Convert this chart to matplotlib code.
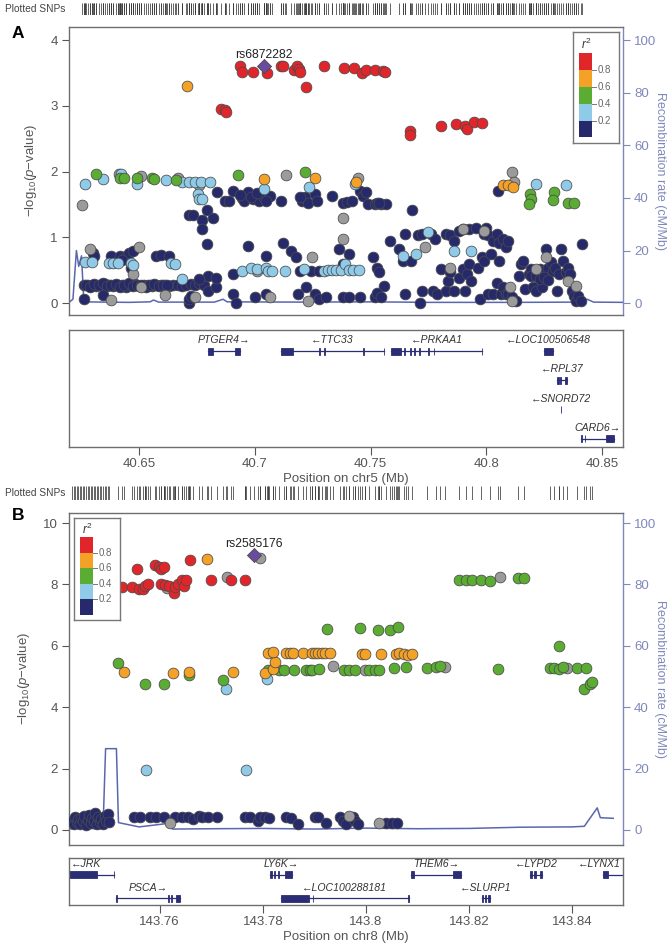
import matplotlib
matplotlib.use("Agg")
import matplotlib.pyplot as plt
from matplotlib.patches import Rectangle

plt.rcParams['font.family'] = ['Liberation Sans', 'DejaVu Sans']
plt.rcParams['mathtext.fontset'] = 'custom'
plt.rcParams['mathtext.rm'] = 'Liberation Sans'
plt.rcParams['mathtext.it'] = 'Liberation Sans:italic'

# ---------------- colours ----------------
NAVY, LBLUE, GREEN, ORANGE, RED = '#262a6b', '#8fcbe9', '#5aac32', '#f4a128', '#e1262b'
GRAY, LEAD = '#9b9b9b', '#6a4c9c'
GENE_C = '#2b2d75'
RECOMB_C = '#5b66b0'
AXIS_C = '#6e6e6e'
RAXIS_C = '#8088bb'

# ================= Panel A data (chr5) =================
A_lead_pos, A_lead_logp = [40.7038], [3.60]
A_lead_name = 'rs6872282'

A_red_pos = [40.6937, 40.6946, 40.6992, 40.7051, 40.7112, 40.7121, 40.7168, 40.7181, 40.7190, 40.7195,
             40.7223, 40.7297, 40.7386, 40.7427, 40.7464, 40.7482, 40.7519, 40.7552, 40.7561, 40.6853,
             40.6872, 40.6877, 40.7671, 40.7671, 40.7806, 40.7871, 40.7908, 40.7917, 40.7945, 40.7982]
A_red_logp = [3.60, 3.52, 3.52, 3.50, 3.60, 3.60, 3.55, 3.60, 3.56, 3.52,
              3.28, 3.60, 3.57, 3.57, 3.50, 3.55, 3.55, 3.53, 3.51, 2.95,
              2.94, 2.90, 2.62, 2.55, 2.70, 2.73, 2.70, 2.65, 2.75, 2.74]

A_orange_pos = [40.6708, 40.7038, 40.7260, 40.7436, 40.8074, 40.8092, 40.8116]
A_orange_logp = [3.31, 1.89, 1.91, 1.85, 1.79, 1.79, 1.76]

A_green_pos = [40.6316, 40.6418, 40.6437, 40.6492, 40.6557, 40.6566, 40.6659, 40.6927, 40.7217, 40.8190,
               40.8194, 40.8185, 40.8290, 40.8287, 40.8351, 40.8379]
A_green_logp = [1.96, 1.91, 1.90, 1.91, 1.91, 1.89, 1.87, 1.95, 1.99, 1.66,
                1.58, 1.51, 1.69, 1.57, 1.53, 1.53]

A_lblue_pos = [40.6265, 40.6344, 40.6422, 40.6492, 40.6618, 40.6686, 40.6714, 40.6742, 40.6770, 40.6807,
               40.6755, 40.6760, 40.6773, 40.7038, 40.7236, 40.7432, 40.8213, 40.8346,
               40.6265, 40.6298, 40.6372, 40.6390, 40.6409, 40.6464, 40.6474, 40.6640, 40.6655, 40.6686,
               40.6945, 40.6982, 40.7010, 40.7047, 40.7056, 40.7075, 40.7130, 40.7214, 40.7297, 40.7315,
               40.7334, 40.7352, 40.7371, 40.7389, 40.7408, 40.7426, 40.7450,
               40.7750, 40.7639, 40.7695, 40.7861, 40.7935]
A_lblue_logp = [1.81, 1.89, 1.96, 1.81, 1.87, 1.84, 1.84, 1.84, 1.84, 1.84,
                1.66, 1.58, 1.58, 1.74, 1.76, 1.81, 1.81, 1.79,
                0.63, 0.63, 0.61, 0.61, 0.61, 0.61, 0.58, 0.61, 0.59, 0.37,
                0.49, 0.54, 0.52, 0.54, 0.49, 0.49, 0.49, 0.52, 0.49, 0.50,
                0.50, 0.50, 0.50, 0.60, 0.50, 0.50, 0.50,
                1.08, 0.72, 0.75, 0.80, 0.80]

A_gray_pos = [40.6252, 40.6414, 40.6511, 40.6668, 40.6760, 40.7136, 40.8111, 40.8120, 40.7445, 40.7380,
              40.7380, 40.6289, 40.6381, 40.6511, 40.6612, 40.6742, 40.6474, 40.6501, 40.7010, 40.7247,
              40.7232, 40.7066, 40.7737, 40.7843, 40.7898, 40.7991, 40.8102, 40.8111, 40.8213, 40.8351,
              40.8388, 40.8259]
A_gray_logp = [1.49, 1.97, 1.94, 1.90, 1.79, 1.95, 2.00, 1.84, 1.91, 1.30,
               0.97, 0.82, 0.05, 0.24, 0.13, 0.09, 0.44, 0.86, 0.49, 0.70,
               0.04, 0.09, 0.85, 0.54, 1.13, 1.10, 0.24, 0.04, 0.52, 0.34,
               0.26, 0.70]

A_navy_pos = [
    40.6838, 40.6871, 40.6908, 40.6890, 40.6945, 40.6955, 40.6973, 40.6992, 40.7001, 40.7019,
    40.7038, 40.7066, 40.7112, 40.7204, 40.7217, 40.7232, 40.7260, 40.7269, 40.7334, 40.7380,
    40.7399, 40.7421, 40.7454, 40.7469, 40.7482, 40.7491, 40.7519, 40.7547, 40.7565, 40.6936,
    40.6982, 40.7010, 40.7047, 40.7195, 40.7528, 40.7537,
    40.6714, 40.6733, 40.6773, 40.6794, 40.6821, 40.6773, 40.6794, 40.7680, 40.8052,
    40.7584, 40.7648, 40.7704, 40.7722, 40.7759, 40.7778, 40.7824, 40.7843, 40.7861, 40.7880,
    40.7898, 40.7926, 40.7954, 40.7991, 40.8000, 40.8009, 40.8028, 40.8046, 40.8055, 40.8074,
    40.8083, 40.8092,
    40.6261, 40.6279, 40.6298, 40.6316, 40.6335, 40.6353, 40.6372, 40.6390, 40.6409, 40.6428,
    40.6446, 40.6464, 40.6483, 40.6501, 40.6520, 40.6538, 40.6557, 40.6575, 40.6594, 40.6612,
    40.6631, 40.6649, 40.6668, 40.6686, 40.6705, 40.6723, 40.6742, 40.6760, 40.6779,
    40.6270, 40.6288, 40.6307, 40.6326, 40.6344, 40.6363, 40.6381, 40.6400, 40.6418, 40.6437,
    40.6455, 40.6474, 40.6492, 40.6511, 40.6529, 40.6548, 40.6566, 40.6585, 40.6603, 40.6622,
    40.6261, 40.6344, 40.6714, 40.6714, 40.6723, 40.6797, 40.6834, 40.6797, 40.6834, 40.6760,
    40.6303, 40.6307, 40.6381, 40.6418, 40.6446, 40.6455, 40.6474, 40.6575, 40.6594, 40.6631,
    40.6464, 40.6428,
    40.6908, 40.6973, 40.7047, 40.7121, 40.7158, 40.7177, 40.7195, 40.7241, 40.7278, 40.7362,
    40.7408, 40.7380, 40.7510, 40.7528, 40.7537, 40.7556,
    40.6908, 40.6918, 40.7001, 40.7047, 40.7186, 40.7223, 40.7260, 40.7278, 40.7306, 40.7380,
    40.7408, 40.7454, 40.7519, 40.7528, 40.7547,
    40.7621, 40.7639, 40.7648, 40.7676, 40.7713, 40.7722, 40.7769, 40.7787, 40.7806, 40.7824,
    40.7833, 40.7843, 40.7861, 40.7880, 40.7898, 40.7907, 40.7917, 40.7926, 40.7935, 40.7963,
    40.7972, 40.7981, 40.7991, 40.8009, 40.8018, 40.8028, 40.8046, 40.8055, 40.8065, 40.8074,
    40.8083, 40.8092, 40.8111, 40.8129, 40.8139, 40.8148, 40.8157, 40.8166, 40.8185, 40.8194,
    40.8203, 40.8213, 40.8222, 40.8231, 40.8240, 40.8250, 40.8259, 40.8268, 40.8277, 40.8287,
    40.8296, 40.8305, 40.8314, 40.8324, 40.8333, 40.8342, 40.8351, 40.8361, 40.8370, 40.8379,
    40.8388, 40.8397, 40.8407, 40.8412,
    40.8194, 40.8213, 40.8231, 40.8250, 40.8268]
A_navy_logp = [
    1.69, 1.55, 1.70, 1.55, 1.60, 1.56, 1.69, 1.58, 1.63, 1.56,
    1.60, 1.63, 1.56, 1.55, 1.61, 1.53, 1.66, 1.56, 1.63, 1.53,
    1.54, 1.56, 1.71, 1.63, 1.69, 1.51, 1.51, 1.51, 1.51, 1.65,
    1.62, 1.67, 1.55, 1.62, 1.52, 1.53,
    1.34, 1.34, 1.26, 1.42, 1.30, 1.13, 0.90, 1.41, 1.70,
    0.95, 1.05, 1.03, 1.05, 1.05, 0.97, 1.05, 1.03, 0.95, 1.10,
    1.13, 1.13, 1.15, 1.05, 1.15, 1.03, 0.95, 1.05, 0.92, 0.97,
    0.86, 0.95,
    0.27, 0.27, 0.28, 0.26, 0.27, 0.29, 0.27, 0.26, 0.28, 0.27,
    0.25, 0.27, 0.29, 0.26, 0.27, 0.28, 0.26, 0.27, 0.28, 0.27,
    0.26, 0.28, 0.27, 0.26, 0.27, 0.29, 0.28, 0.31, 0.27,
    0.28, 0.25, 0.29, 0.27, 0.30, 0.26, 0.27, 0.29, 0.25, 0.28,
    0.30, 0.26, 0.27, 0.28, 0.25, 0.27, 0.29, 0.26, 0.28, 0.27,
    0.06, 0.13, 0.01, 0.06, 0.11, 0.19, 0.24, 0.42, 0.39, 0.37,
    0.77, 0.72, 0.72, 0.72, 0.72, 0.77, 0.80, 0.72, 0.73, 0.72,
    0.54, 0.66,
    0.44, 0.87, 0.72, 0.92, 0.80, 0.70, 0.49, 0.49, 0.49, 0.82,
    0.75, 0.59, 0.70, 0.54, 0.47, 0.26,
    0.14, 0.01, 0.09, 0.14, 0.14, 0.25, 0.14, 0.06, 0.09, 0.09,
    0.09, 0.09, 0.09, 0.16, 0.09,
    0.82, 0.64, 0.14, 0.64, 0.01, 0.19, 0.19, 0.14, 0.52, 0.19,
    0.34, 0.47, 0.19, 0.39, 0.52, 0.19, 0.44, 0.59, 0.34, 0.54,
    0.06, 0.70, 0.64, 0.14, 0.75, 0.14, 0.31, 0.64, 0.14, 0.24,
    0.14, 0.14, 0.09, 0.04, 0.42, 0.59, 0.64, 0.21, 0.44, 0.52,
    0.24, 0.19, 0.47, 0.52, 0.24, 0.49, 0.82, 0.54, 0.62, 0.49,
    0.54, 0.19, 0.44, 0.82, 0.64, 0.47, 0.54, 0.44, 0.19, 0.11,
    0.04, 0.11, 0.04, 0.90,
    0.42, 0.42, 0.36, 0.40, 0.35]

A_recomb_pos = [40.6198, 40.6215, 40.6230, 40.6240, 40.6252, 40.6262, 40.6456, 40.6548, 40.6563, 40.6585,
                40.6826, 40.6863, 40.6881, 40.7195, 40.7510, 40.7751, 40.8121, 40.8408, 40.8435, 40.8463,
                40.8592]
A_recomb_rate = [0.3, 1.5, 20.0, 14.0, 18.0, 0.5, 0.3, 0.5, 1.2, 0.4,
                 0.4, 1.5, 0.5, 0.4, 0.5, 0.3, 0.3, 0.4, 1.5, 0.4,
                 0.3]

A_genes = [  # name, start, end, strand, row, exons
    ('PTGER4', 40.6798, 40.6937, '+', 0, [(40.6798, 40.6820), (40.6914, 40.6937)]),
    ('TTC33', 40.7112, 40.7558, '-', 0, [(40.7112, 40.7164), (40.7277, 40.7281), (40.7299, 40.7303),
                                         (40.7467, 40.7471), (40.7556, 40.7558)]),
    ('PRKAA1', 40.7590, 40.7982, '-', 0, [(40.7590, 40.7630), (40.7643, 40.7647), (40.7669, 40.7673),
                                          (40.7687, 40.7691), (40.7711, 40.7715), (40.7748, 40.7752),
                                          (40.7772, 40.7776), (40.7980, 40.7982)]),
    ('LOC100506548', 40.8247, 40.8288, '-', 0, [(40.8247, 40.8288)]),
    ('RPL37', 40.8306, 40.8349, '-', 1, [(40.8306, 40.8314), (40.8320, 40.8324), (40.8338, 40.8349)]),
    ('SNORD72', 40.8321, 40.8322, '-', 2, [(40.8321, 40.8322)]),
    ('CARD6', 40.8408, 40.8550, '+', 3, [(40.8408, 40.8411), (40.8424, 40.8427), (40.8515, 40.8550)]),
]
A_xticks = [40.65, 40.70, 40.75, 40.80, 40.85]
A_xticklabels = ['40.65', '40.7', '40.75', '40.8', '40.85']
A_yticks = [0, 1, 2, 3, 4]

# ================= Panel B data (chr8) =================
B_lead_pos, B_lead_logp = [143.7783], [8.96]
B_lead_name = 'rs2585176'

B_red_pos = [143.7527, 143.7546, 143.7556, 143.7560, 143.7567, 143.7572, 143.7577, 143.7591, 143.7599, 143.7602,
             143.7608, 143.7602, 143.7610, 143.7618, 143.7627, 143.7629, 143.7635, 143.7643, 143.7648, 143.7652,
             143.7659, 143.7700, 143.7739, 143.7766]
B_red_logp = [7.92, 7.92, 8.51, 7.84, 7.86, 7.95, 8.00, 8.62, 8.57, 8.49,
              8.57, 8.00, 7.97, 7.95, 7.73, 7.92, 8.00, 8.16, 7.95, 8.16,
              8.79, 8.16, 8.16, 8.16]

B_orange_pos = [143.7692, 143.7530, 143.7625, 143.7656, 143.7743, 143.7805, 143.7819, 143.7824,
                143.7811, 143.7819, 143.7845, 143.7852, 143.7858, 143.7878, 143.7895, 143.7902, 143.7908,
                143.7914, 143.7921, 143.7931, 143.7993, 143.7999, 143.8030, 143.8058, 143.8065, 143.8074,
                143.8081, 143.8089]
B_orange_logp = [8.83, 5.16, 5.10, 5.16, 5.16, 5.12, 5.26, 5.48,
                 5.78, 5.80, 5.78, 5.78, 5.78, 5.78, 5.78, 5.78, 5.78,
                 5.78, 5.78, 5.78, 5.73, 5.73, 5.73, 5.73, 5.78, 5.73,
                 5.70, 5.75]

B_green_pos = [143.7520, 143.7572, 143.7609, 143.7656, 143.7722, 143.7810, 143.7831, 143.7842, 143.7861, 143.7884,
               143.7891, 143.7895, 143.7910, 143.7958, 143.7968, 143.7978, 143.8007, 143.8017, 143.8025, 143.8054,
               143.8078, 143.8118, 143.8136, 143.8143, 143.8257, 143.8374, 143.8358, 143.8366, 143.8374, 143.8382,
               143.8410, 143.8427, 143.8424, 143.8435, 143.8439,
               143.7924, 143.7988, 143.8023, 143.8046, 143.8063,
               143.8180, 143.8194, 143.8206, 143.8223, 143.8240, 143.8296, 143.8306]
B_green_logp = [5.45, 4.76, 4.76, 5.05, 4.89, 5.21, 5.20, 5.20, 5.20, 5.20,
                5.20, 5.22, 5.23, 5.21, 5.22, 5.21, 5.21, 5.21, 5.21, 5.27,
                5.30, 5.27, 5.30, 5.34, 5.23, 6.00, 5.27, 5.27, 5.23, 5.32,
                5.27, 5.27, 4.61, 4.76, 4.81,
                6.54, 6.59, 6.52, 6.52, 6.63,
                8.14, 8.14, 8.14, 8.14, 8.11, 8.22, 8.22]

B_lblue_pos = [143.7729, 143.7808, 143.7574, 143.7768]
B_lblue_logp = [4.59, 4.92, 1.97, 1.97]

B_gray_pos = [143.7614, 143.7731, 143.7795, 143.7937, 143.7999, 143.8154, 143.8260, 143.8391,
              143.7620, 143.7967, 143.8026]
B_gray_logp = [7.89, 8.24, 8.86, 5.34, 5.21, 5.30, 8.25, 5.27,
               0.24, 0.46, 0.24]

B_navy_pos = [143.7430, 143.7433, 143.7436, 143.7439, 143.7442, 143.7445, 143.7448, 143.7451, 143.7454, 143.7457,
              143.7460, 143.7463, 143.7466, 143.7469, 143.7472, 143.7475, 143.7478, 143.7481, 143.7484, 143.7487,
              143.7490, 143.7493, 143.7496, 143.7499, 143.7502,
              143.7550, 143.7561, 143.7582, 143.7592, 143.7609, 143.7629, 143.7643, 143.7654, 143.7665, 143.7676,
              143.7683, 143.7694, 143.7712, 143.7766, 143.7776, 143.7791, 143.7794, 143.7805, 143.7812, 143.7846,
              143.7855, 143.7868, 143.7901, 143.7907, 143.7922, 143.7950, 143.7956, 143.7961, 143.7976, 143.7978,
              143.7985, 143.8039, 143.8050, 143.8060]
B_navy_logp = [0.30, 0.18, 0.42, 0.25, 0.35, 0.20, 0.40, 0.28, 0.45, 0.15,
               0.33, 0.50, 0.22, 0.38, 0.30, 0.55, 0.18, 0.42, 0.27, 0.35,
               0.20, 0.45, 0.30, 0.52, 0.25,
               0.42, 0.42, 0.42, 0.42, 0.42, 0.42, 0.42, 0.42, 0.36, 0.44,
               0.42, 0.42, 0.42, 0.42, 0.42, 0.30, 0.42, 0.42, 0.38, 0.42,
               0.40, 0.20, 0.42, 0.42, 0.22, 0.42, 0.30, 0.20, 0.42, 0.30,
               0.20, 0.24, 0.24, 0.24]

B_recomb_pos = [143.7424, 143.7440, 143.7460, 143.7475, 143.7490, 143.7495, 143.7516, 143.7520, 143.7560, 143.7600,
                143.7618, 143.7625, 143.7700, 143.7800, 143.7900, 143.8000, 143.8100, 143.8200, 143.8300, 143.8400,
                143.8424, 143.8449, 143.8455, 143.8480]
B_recomb_rate = [0.3, 0.5, 0.8, 0.3, 0.5, 26.5, 26.5, 2.4, 1.0, 1.8,
                 2.2, 0.3, 0.4, 0.5, 0.3, 0.6, 0.4, 0.5, 0.9, 1.0,
                 1.2, 7.2, 4.0, 3.8]

B_genes = [
    ('JRK', 143.7400, 143.7512, '-', 0, [(143.7400, 143.7479), (143.7511, 143.7512)]),
    ('LY6K', 143.7814, 143.7856, '+', 0, [(143.7814, 143.7818), (143.7821, 143.7823), (143.7829, 143.7831),
                                         (143.7843, 143.7856)]),
    ('THEM6', 143.8088, 143.8185, '+', 0, [(143.8088, 143.8094), (143.8169, 143.8185)]),
    ('LYPD2', 143.8319, 143.8341, '-', 0, [(143.8319, 143.8323), (143.8327, 143.8330), (143.8338, 143.8341)]),
    ('LYNX1', 143.8461, 143.8520, '-', 0, [(143.8461, 143.8469)]),
    ('PSCA', 143.7516, 143.7639, '+', 1, [(143.7516, 143.7517), (143.7617, 143.7619), (143.7622, 143.7624),
                                         (143.7631, 143.7639)]),
    ('LOC100288181', 143.7835, 143.8083, '-', 1, [(143.7835, 143.7889), (143.7897, 143.7898), (143.8082, 143.8083)]),
    ('SLURP1', 143.8225, 143.8240, '-', 1, [(143.8225, 143.8228), (143.8231, 143.8234), (143.8237, 143.8240)]),
]
B_xticks = [143.76, 143.78, 143.80, 143.82, 143.84]
B_xticklabels = ['143.76', '143.78', '143.8', '143.82', '143.84']
B_yticks = [0, 2, 4, 6, 8, 10]

R_ticks = [0, 20, 40, 60, 80, 100]
legend_labels = ['0.2', '0.4', '0.6', '0.8']
legend_colors = [NAVY, LBLUE, GREEN, ORANGE, RED]

# ================= figure =================
W, H = 671, 948
fig = plt.figure(figsize=(W / 100, H / 100), dpi=100)


def rect(l, t, r, b):
    return [l / W, 1 - b / H, (r - l) / W, (b - t) / H]


gene_texts = []


def draw_panel(letter, letter_y, rug_tb, main_tb, gene_tb, leg_box, xlim, ylim, rscale,
               yticks, xticks, xticklabels, xlabel, groups, lead_pos, lead_logp, lead_name, lead_dy,
               rec_pos, rec_rate, genes, row_y, label_dy):
    L, R = 69, 623
    # rug of plotted SNP positions
    axr = fig.add_axes(rect(L, rug_tb[0], R, rug_tb[1]))
    allpos = []
    for pos, _, _ in groups:
        allpos += pos
    allpos += lead_pos
    axr.vlines(allpos, 0, 1, color='#3a3a3a', lw=0.55)
    axr.set_xlim(xlim)
    axr.set_ylim(0, 1)
    axr.axis('off')
    fig.text(5 / W, 1 - (rug_tb[0] + rug_tb[1]) / 2 / H, 'Plotted SNPs', fontsize=7.3, color='#444444',
             va='center', ha='left')
    fig.text(12 / W, 1 - letter_y / H, letter, fontsize=12.5, fontweight='bold', va='center', ha='left')

    # main axes with recombination twin
    ax = fig.add_axes(rect(L, main_tb[0], R, main_tb[1]))
    ax2 = ax.twinx()
    ax2.plot(rec_pos, rec_rate, color=RECOMB_C, lw=1.1)
    ax2.set_ylim(ylim[0] * rscale, ylim[1] * rscale)
    ax2.set_yticks(R_ticks)
    ax2.tick_params(axis='y', colors=RAXIS_C, labelsize=9.5, length=5, width=0.8, pad=3)
    for s in ax2.spines.values():
        s.set_visible(False)
    ax2.spines['right'].set_visible(True)
    ax2.spines['right'].set_color(RAXIS_C)
    ax2.spines['right'].set_linewidth(1.0)
    ax2.set_ylabel('Recombination rate (cM/Mb)', rotation=270, color=RAXIS_C, fontsize=9, labelpad=7)

    ax.set_zorder(ax2.get_zorder() + 1)
    ax.patch.set_visible(False)
    for pos, val, col in groups:
        ax.scatter(pos, val, s=60, c=col, edgecolors='#4a4a4a', linewidths=0.55, zorder=3)
    ax.scatter(lead_pos, lead_logp, s=52, marker='D', c=LEAD, edgecolors='#4a4a4a', linewidths=0.55, zorder=4)
    ax.text(lead_pos[0], lead_logp[0] + lead_dy, lead_name, ha='center', va='bottom', fontsize=8.8,
            color='#222222')
    ax.set_xlim(xlim)
    ax.set_ylim(ylim)
    ax.set_yticks(yticks)
    ax.set_xticks([])
    ax.tick_params(axis='y', colors='#555555', labelsize=9.5, length=5, width=0.8, pad=3)
    for s in ax.spines.values():
        s.set_color(AXIS_C)
        s.set_linewidth(1.0)
    ax.spines['right'].set_visible(False)
    ax.set_ylabel(r'$-$log$_{10}$($p$$-$value)', color='#555555', fontsize=9.5, labelpad=8)

    # r2 legend
    lx0, ly0, lx1, ly1 = leg_box
    lax = fig.add_axes(rect(lx0, ly0, lx1, ly1))
    lax.set_xlim(0, 1)
    lax.set_ylim(0, 1)
    lax.set_xticks([])
    lax.set_yticks([])
    lax.set_facecolor('white')
    lax.set_zorder(ax.get_zorder() + 1)
    for s in lax.spines.values():
        s.set_color('#777777')
        s.set_linewidth(1.0)
    b0, b1 = 0.05, 0.81
    step = (b1 - b0) / 5
    for i, c in enumerate(legend_colors):
        lax.add_patch(Rectangle((0.14, b0 + i * step), 0.27, step, color=c, lw=0))
    for i, lab in enumerate(legend_labels):
        yy = b0 + (i + 1) * step
        lax.plot([0.41, 0.5], [yy, yy], color='#777777', lw=0.7)
        lax.text(0.53, yy, lab, fontsize=7, color='#666666', va='center', ha='left')
    lax.text(0.3, 0.885, r'$r^2$', fontsize=8.5, color='#333333', ha='center', va='center')

    # genes
    axg = fig.add_axes(rect(L, gene_tb[0], R, gene_tb[1]))
    box_px = gene_tb[1] - gene_tb[0]
    hh = 7.0 / box_px
    for name, start, end, strand, row, exons in genes:
        y = row_y[row]
        axg.plot([start, end], [y, y], color=GENE_C, lw=0.9)
        for s0, e0 in exons:
            axg.add_patch(Rectangle((s0, y - hh / 2), e0 - s0, hh, facecolor=GENE_C, edgecolor=GENE_C, lw=0.6))
        lab = (name + '\u2192') if strand == '+' else ('\u2190' + name)
        t = axg.text((start + end) / 2, y - label_dy, lab, ha='center', va='bottom', fontsize=7.6,
                     style='italic', color='#333333')
        gene_texts.append((axg, t))
    axg.set_xlim(xlim)
    axg.set_ylim(1, 0)
    axg.set_yticks([])
    axg.set_xticks(xticks)
    axg.set_xticklabels(xticklabels)
    axg.tick_params(axis='x', colors='#555555', labelsize=9.5, length=6, width=0.8, pad=2)
    for s in axg.spines.values():
        s.set_color(AXIS_C)
        s.set_linewidth(1.0)
    axg.set_xlabel(xlabel, fontsize=9.5, color='#555555', labelpad=2)


groupsA = [(A_navy_pos, A_navy_logp, NAVY), (A_gray_pos, A_gray_logp, GRAY),
           (A_lblue_pos, A_lblue_logp, LBLUE), (A_green_pos, A_green_logp, GREEN),
           (A_orange_pos, A_orange_logp, ORANGE), (A_red_pos, A_red_logp, RED)]
groupsB = [(B_navy_pos, B_navy_logp, NAVY), (B_gray_pos, B_gray_logp, GRAY),
           (B_lblue_pos, B_lblue_logp, LBLUE), (B_green_pos, B_green_logp, GREEN),
           (B_orange_pos, B_orange_logp, ORANGE), (B_red_pos, B_red_logp, RED)]

draw_panel('A', 33, (3, 15), (27, 315), (330, 447), (573, 32, 619, 143),
           (40.6198, 40.8590), (-0.18, 4.2), 25, A_yticks, A_xticks, A_xticklabels,
           'Position on chr5 (Mb)', groupsA, A_lead_pos, A_lead_logp, A_lead_name, 0.09,
           A_recomb_pos, A_recomb_rate, A_genes, [0.18, 0.43, 0.68, 0.93], 0.05)

draw_panel('B', 515, (486, 500), (513, 845), (858, 905), (74, 518, 120, 620),
           (143.7424, 143.8499), (-0.49, 10.33), 10, B_yticks, B_xticks, B_xticklabels,
           'Position on chr8 (Mb)', groupsB, B_lead_pos, B_lead_logp, B_lead_name, 0.18,
           B_recomb_pos, B_recomb_rate, B_genes, [0.36, 0.86], 0.12)

# keep gene labels inside their panels
fig.canvas.draw()
renderer = fig.canvas.get_renderer()
for axg, t in gene_texts:
    bb = t.get_window_extent(renderer)
    abb = axg.get_window_extent(renderer)
    shift = 0
    if bb.x1 > abb.x1 - 2:
        shift = (abb.x1 - 2) - bb.x1
    if bb.x0 < abb.x0 + 2:
        shift = (abb.x0 + 2) - bb.x0
    if shift:
        xd, yd = axg.transData.transform(t.get_position())
        nx = axg.transData.inverted().transform((xd + shift, yd))[0]
        t.set_x(nx)

fig.savefig('out.png', dpi=100)
